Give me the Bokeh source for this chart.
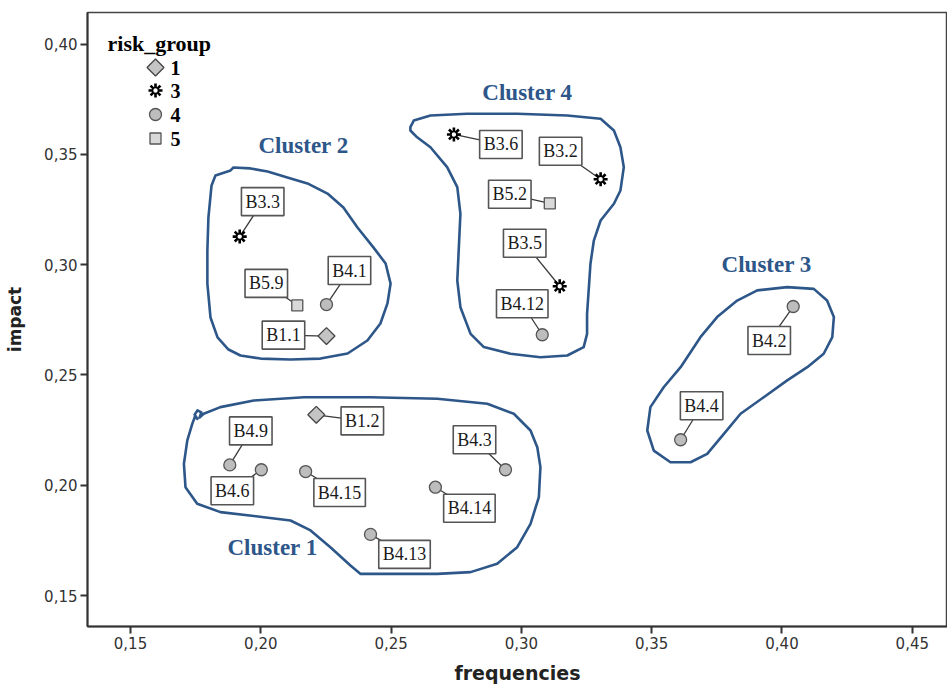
import math
from bokeh.plotting import figure
from bokeh.models import ColumnDataSource, Range1d, FixedTicker, Label
from bokeh.core.properties import value
from bokeh.embed import file_html
from bokeh.resources import INLINE

# ---------------- data ----------------
risk_labels = ["B1.1", "B1.2", "B3.2", "B3.3", "B3.5", "B3.6", "B4.1", "B4.2", "B4.3",
               "B4.4", "B4.6", "B4.9", "B4.12", "B4.13", "B4.14", "B4.15", "B5.2", "B5.9"]
risk_group = [1, 1, 3, 3, 3, 3, 4, 4, 4, 4, 4, 4, 4, 4, 4, 4, 5, 5]
frequencies = [0.2252, 0.2213, 0.3304, 0.1919, 0.3147, 0.2741, 0.2252, 0.4043, 0.2939,
               0.3611, 0.2002, 0.1881, 0.3080, 0.2421, 0.2670, 0.2172, 0.3109, 0.2140]
impact = [0.2676, 0.2319, 0.3387, 0.3127, 0.2902, 0.3590, 0.2819, 0.2810, 0.2070,
          0.2206, 0.2070, 0.2092, 0.2682, 0.1777, 0.1991, 0.2062, 0.3278, 0.2815]

legend_title = "risk_group"
legend_groups = [1, 3, 4, 5]

x_ticks = [0.15, 0.20, 0.25, 0.30, 0.35, 0.40, 0.45]
x_tick_labels = ["0,15", "0,20", "0,25", "0,30", "0,35", "0,40", "0,45"]
y_ticks = [0.15, 0.20, 0.25, 0.30, 0.35, 0.40]
y_tick_labels = ["0,15", "0,20", "0,25", "0,30", "0,35", "0,40"]

cluster_names = ["Cluster 1", "Cluster 2", "Cluster 3", "Cluster 4"]
cluster_label_x = [0.2045, 0.2164, 0.3941, 0.3023]
cluster_label_y = [0.1718, 0.3540, 0.3000, 0.3780]

cluster1_x = [0.1756, 0.1746, 0.1757, 0.1772, 0.1765, 0.1781, 0.1845, 0.1973, 0.2165, 0.2421,
              0.2677, 0.2869, 0.2971, 0.3035, 0.3061, 0.3073, 0.3067, 0.3035, 0.2984, 0.2907,
              0.2805, 0.2677, 0.2523, 0.2383, 0.2344, 0.2267, 0.2191, 0.2114, 0.2012, 0.1845,
              0.1756, 0.1711, 0.1705, 0.1718, 0.1737, 0.1749]
cluster1_y = [0.2301, 0.2320, 0.2339, 0.2330, 0.2307, 0.2324, 0.2354, 0.2384, 0.2399, 0.2399,
              0.2392, 0.2369, 0.2324, 0.2248, 0.2172, 0.2082, 0.1946, 0.1825, 0.1719, 0.1644,
              0.1606, 0.1598, 0.1598, 0.1598, 0.1636, 0.1719, 0.1795, 0.1840, 0.1855, 0.1878,
              0.1916, 0.1991, 0.2097, 0.2203, 0.2278, 0.2316]

cluster2_x = [0.1826, 0.1884, 0.1895, 0.1960, 0.2026, 0.2102, 0.2179, 0.2256, 0.2317, 0.2371,
              0.2432, 0.2479, 0.2498, 0.2486, 0.2459, 0.2409, 0.2333, 0.2229, 0.2114, 0.1999,
              0.1922, 0.1876, 0.1834, 0.1807, 0.1795, 0.1795, 0.1799, 0.1811, 0.1826]
cluster2_y = [0.3404, 0.3427, 0.3440, 0.3436, 0.3422, 0.3395, 0.3368, 0.3322, 0.3259, 0.3168,
              0.3078, 0.3005, 0.2914, 0.2824, 0.2733, 0.2656, 0.2597, 0.2574, 0.2570, 0.2574,
              0.2588, 0.2615, 0.2670, 0.2760, 0.2914, 0.3064, 0.3214, 0.3359, 0.3404]

cluster3_x = [0.3905, 0.4020, 0.4122, 0.4173, 0.4199, 0.4193, 0.4160, 0.4097, 0.4020, 0.3930,
              0.3841, 0.3777, 0.3713, 0.3649, 0.3572, 0.3508, 0.3483, 0.3495, 0.3546, 0.3611,
              0.3687, 0.3751, 0.3828, 0.3905]
cluster3_y = [0.2883, 0.2898, 0.2890, 0.2837, 0.2762, 0.2671, 0.2596, 0.2535, 0.2475, 0.2399,
              0.2324, 0.2233, 0.2142, 0.2104, 0.2104, 0.2157, 0.2248, 0.2354, 0.2444, 0.2535,
              0.2671, 0.2762, 0.2837, 0.2883]

cluster4_x = [0.2574, 0.2587, 0.2651, 0.2792, 0.2984, 0.3176, 0.3304, 0.3355, 0.3380, 0.3393,
              0.3380, 0.3355, 0.3304, 0.3278, 0.3265, 0.3259, 0.3252, 0.3252, 0.3239, 0.3176,
              0.3073, 0.2958, 0.2856, 0.2805, 0.2766, 0.2754, 0.2760, 0.2766, 0.2754, 0.2715,
              0.2651, 0.2600, 0.2574, 0.2574]
cluster4_y = [0.3623, 0.3653, 0.3676, 0.3684, 0.3684, 0.3676, 0.3661, 0.3608, 0.3532, 0.3442,
              0.3336, 0.3276, 0.3200, 0.3109, 0.3004, 0.2898, 0.2777, 0.2686, 0.2626, 0.2588,
              0.2580, 0.2596, 0.2626, 0.2686, 0.2807, 0.2928, 0.3079, 0.3230, 0.3351, 0.3442,
              0.3532, 0.3577, 0.3608, 0.3623]

# ---------------- layout (pixels) ----------------
label_dx = [-43, 46, -40, 23, -35, 47, 23, -24, -31, 21, -29, 21, -20, 34, 34, 34, -40, -31]
label_dy = [1, -6, 28, 35, 43, -10, 34, -34, 30, 34, -21, 34, 31, -20, -21, -21, 9, 22]

W, H = 947, 688
BL, BR, BT, BB = 87, 0, 12, 62
X_START, X_END = 0.1335, 0.46351
Y_START, Y_END = 0.13595, 0.41428
FRAME_W = W - BL - BR
FRAME_H = H - BT - BB
PPU_X = FRAME_W / (X_END - X_START)
PPU_Y = FRAME_H / (Y_END - Y_START)

# legend layout, pixels from the frame's top-left corner
LEG_GLYPH_X = 68
LEG_LABEL_X = 83
LEG_ROW_Y = [55, 78, 102, 126]

BLUE = "#2d5689"
TICK_FONT = "DejaVu Sans"
SERIF = "Liberation Serif"

p = figure(width=W, height=H, output_backend="svg", toolbar_location=None,
           x_range=Range1d(X_START, X_END), y_range=Range1d(Y_START, Y_END),
           min_border_left=BL, min_border_right=BR, min_border_top=BT, min_border_bottom=BB)
p.grid.visible = False
p.outline_line_color = "#444444"
p.outline_line_width = 1.5
p.background_fill_color = "white"
p.border_fill_color = "white"

for ax, ticks, labels in ((p.xaxis[0], x_ticks, x_tick_labels), (p.yaxis[0], y_ticks, y_tick_labels)):
    ax.ticker = FixedTicker(ticks=ticks)
    ax.major_label_overrides = {t: l for t, l in zip(ticks, labels)}
    ax.axis_line_color = "#333333"
    ax.axis_line_width = 2
    ax.major_tick_line_color = "#333333"
    ax.major_tick_line_width = 2
    ax.major_tick_in = 0
    ax.major_tick_out = 7
    ax.minor_tick_line_color = None
    ax.major_label_text_font = TICK_FONT
    ax.major_label_text_font_size = "15px"
    ax.major_label_text_color = "#333333"
    ax.major_label_standoff = 3
    ax.axis_label_text_font = "DejaVu Sans"
    ax.axis_label_text_font_style = "bold"
    ax.axis_label_text_color = "#222222"

p.xaxis[0].axis_label = "frequencies"
p.xaxis[0].axis_label_text_font_size = "19px"
p.xaxis[0].axis_label_standoff = 10
p.yaxis[0].axis_label = "impact"
p.yaxis[0].axis_label_text_font_size = "17px"
p.yaxis[0].axis_label_standoff = 16

# cluster outlines
for cx, cy in ((cluster1_x, cluster1_y), (cluster2_x, cluster2_y),
               (cluster3_x, cluster3_y), (cluster4_x, cluster4_y)):
    p.line(cx, cy, line_color=BLUE, line_width=2.6, line_join="round", line_cap="round")

p.text(x=cluster_label_x, y=cluster_label_y, text=cluster_names,
       text_font=value(SERIF), text_font_style="bold", text_font_size=value("23px"),
       text_color=BLUE, text_align="center", text_baseline="middle")

# leader lines and boxed labels
x1 = [x + dx / PPU_X for x, dx in zip(frequencies, label_dx)]
y1 = [y + dy / PPU_Y for y, dy in zip(impact, label_dy)]
src = ColumnDataSource(dict(x=frequencies, y=impact, label=risk_labels, group=risk_group,
                            x1=x1, y1=y1, dx=label_dx, dy=[-d for d in label_dy]))
p.segment(x0="x", y0="y", x1="x1", y1="y1", source=src, line_color="#3a3a3a", line_width=1.3)
p.text(x="x", y="y", text="label", x_offset="dx", y_offset="dy", source=src,
       text_font=value(SERIF), text_font_size=value("18px"), text_color="#1a1a1a",
       text_align="center", text_baseline="middle",
       background_fill_color="white", border_line_color="#555555", border_line_width=1.6,
       padding=4)

# marker styles per risk group
def draw_group(source, g):
    if g == 1:
        p.scatter("x", "y", source=source, marker="square", angle=math.pi / 4, size=12,
                  fill_color="#c4c4c4", line_color="#444444", line_width=1.3)
    elif g == 3:
        p.scatter("x", "y", source=source, marker="asterisk", size=14,
                  line_color="black", line_width=2.6)
        p.scatter("x", "y", source=source, marker="circle", size=6,
                  fill_color="white", line_color="black", line_width=1.6)
    elif g == 4:
        p.scatter("x", "y", source=source, marker="circle", size=12,
                  fill_color="#bdbdbd", line_color="#555555", line_width=1.3)
    elif g == 5:
        p.scatter("x", "y", source=source, marker="square", size=11,
                  fill_color="#d9d9d9", line_color="#555555", line_width=1.3)

for g in legend_groups:
    idx = [i for i, v in enumerate(risk_group) if v == g]
    draw_group(ColumnDataSource(dict(x=[frequencies[i] for i in idx],
                                     y=[impact[i] for i in idx])), g)

# legend (risk_group key) in the upper-left corner of the frame
leg_x = X_START + LEG_GLYPH_X / PPU_X
leg_lx = X_START + LEG_LABEL_X / PPU_X
leg_y = [Y_END - r / PPU_Y for r in LEG_ROW_Y]
for g, yy in zip(legend_groups, leg_y):
    draw_group(ColumnDataSource(dict(x=[leg_x], y=[yy])), g)
p.text(x=[leg_lx] * len(legend_groups), y=leg_y, text=[str(g) for g in legend_groups],
       text_font=value(SERIF), text_font_style="bold", text_font_size=value("20px"),
       text_color="black", text_align="left", text_baseline="middle")
p.add_layout(Label(x=20, y=FRAME_H - 31, x_units="screen", y_units="screen", text=legend_title,
                   text_font=SERIF, text_font_style="bold", text_font_size="22px",
                   text_color="black", text_align="left", text_baseline="alphabetic"))

open("out.html", "w").write(file_html(p, INLINE))
